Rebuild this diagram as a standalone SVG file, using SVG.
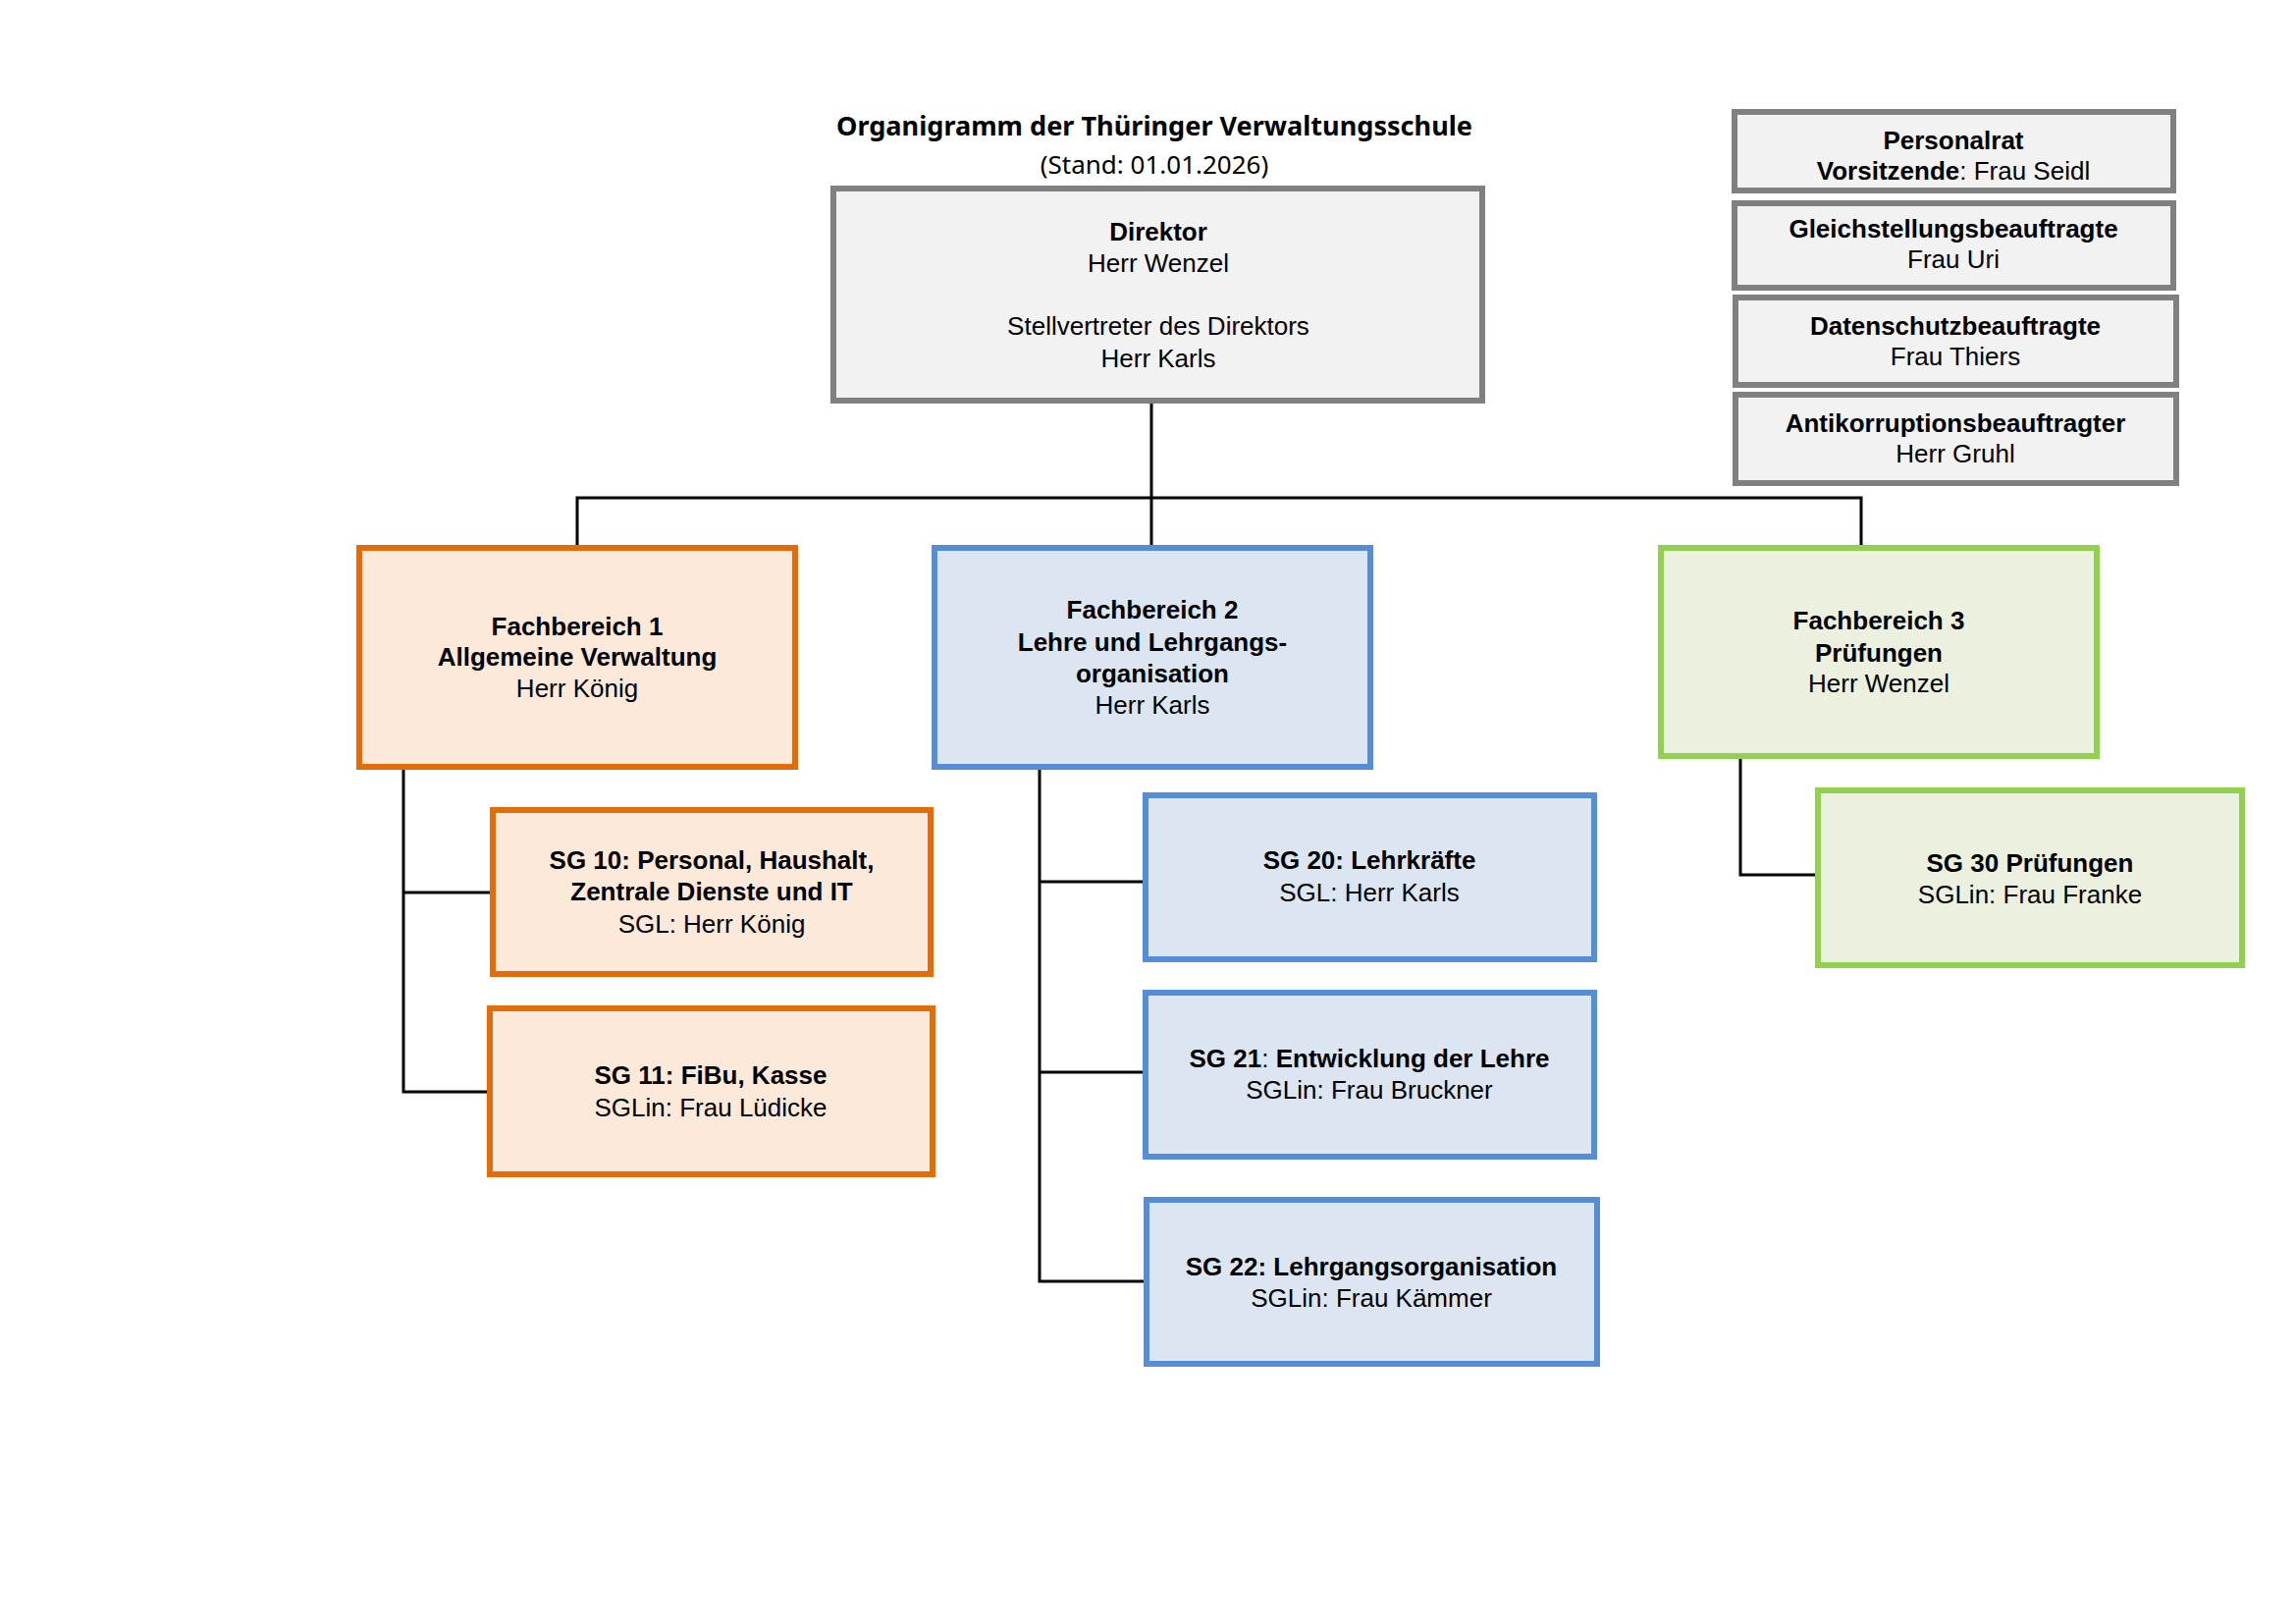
<svg xmlns="http://www.w3.org/2000/svg" width="2339" height="1654" viewBox="0 0 2339 1654">
<style>
text{font-family:"Liberation Sans",Arial,sans-serif;font-size:26px;text-anchor:middle;fill:#000}
.b{font-weight:bold}
.t{font-family:"Noto Sans","Open Sans",sans-serif;font-size:26px}
.g{fill:#F2F2F2;stroke:#808080;stroke-width:6}
.o{fill:#FDE9D9;stroke:#E36C0A;stroke-width:6}
.bl{fill:#DCE6F2;stroke:#558ED5;stroke-width:6}
.gr{fill:#EBF1DE;stroke:#92D050;stroke-width:6}
.c{fill:none;stroke:#000;stroke-width:3}
</style>
<rect width="2339" height="1654" fill="#fff"/>
<g id="title">
<text class="t b" x="1176" y="138" textLength="648" lengthAdjust="spacingAndGlyphs">Organigramm der Thüringer Verwaltungsschule</text>
<text class="t" x="1176" y="177">(Stand: 01.01.2026)</text>
</g>
<g id="connectors">
<path class="c" d="M1173 408V558M588 558V507H1896V558"/>
<path class="c" d="M411 781V1112H499M411 909H502"/>
<path class="c" d="M1059 781V1305H1168M1059 898H1167M1059 1092H1167"/>
<path class="c" d="M1773 770V891H1852"/>
</g>
<g id="direktor"><rect class="g" x="849" y="192" width="661" height="216"/>
<text class="b" x="1180" y="245">Direktor</text><text x="1180" y="277">Herr Wenzel</text>
<text x="1180" y="341">Stellvertreter des Direktors</text><text x="1180" y="374">Herr Karls</text></g>
<g id="personalrat"><rect class="g" x="1767" y="114" width="447" height="80"/>
<text class="b" x="1990" y="152">Personalrat</text><text x="1990" y="183"><tspan class="b">Vorsitzende</tspan>: Frau Seidl</text></g>
<g id="gleich"><rect class="g" x="1767" y="207" width="447" height="86"/>
<text class="b" x="1990" y="242">Gleichstellungsbeauftragte</text><text x="1990" y="273">Frau Uri</text></g>
<g id="datenschutz"><rect class="g" x="1768" y="303" width="449" height="89"/>
<text class="b" x="1992" y="341">Datenschutzbeauftragte</text><text x="1992" y="372">Frau Thiers</text></g>
<g id="anti"><rect class="g" x="1768" y="402" width="449" height="90"/>
<text class="b" x="1992" y="440">Antikorruptionsbeauftragter</text><text x="1992" y="471">Herr Gruhl</text></g>
<g id="fb1"><rect class="o" x="366" y="558" width="444" height="223"/>
<text class="b" x="588" y="647">Fachbereich 1</text><text class="b" x="588" y="678">Allgemeine Verwaltung</text><text x="588" y="710">Herr König</text></g>
<g id="fb2"><rect class="bl" x="952" y="558" width="444" height="223"/>
<text class="b" x="1174" y="630">Fachbereich 2</text><text class="b" x="1174" y="663">Lehre und Lehrgangs-</text><text class="b" x="1174" y="695">organisation</text><text x="1174" y="727">Herr Karls</text></g>
<g id="fb3"><rect class="gr" x="1692" y="558" width="444" height="212"/>
<text class="b" x="1914" y="641">Fachbereich 3</text><text class="b" x="1914" y="674">Prüfungen</text><text x="1914" y="705">Herr Wenzel</text></g>
<g id="sg10"><rect class="o" x="502" y="825" width="446" height="167"/>
<text class="b" x="725" y="885">SG 10: Personal, Haushalt,</text><text class="b" x="725" y="917">Zentrale Dienste und IT</text><text x="725" y="950">SGL: Herr König</text></g>
<g id="sg11"><rect class="o" x="499" y="1027" width="451" height="169"/>
<text class="b" x="724" y="1104">SG 11: FiBu, Kasse</text><text x="724" y="1137">SGLin: Frau Lüdicke</text></g>
<g id="sg20"><rect class="bl" x="1167" y="810" width="457" height="167"/>
<text class="b" x="1395" y="885">SG 20: Lehrkräfte</text><text x="1395" y="918">SGL: Herr Karls</text></g>
<g id="sg21"><rect class="bl" x="1167" y="1011" width="457" height="167"/>
<text x="1395" y="1087"><tspan class="b">SG 21</tspan>: <tspan class="b">Entwicklung der Lehre</tspan></text><text x="1395" y="1119">SGLin: Frau Bruckner</text></g>
<g id="sg22"><rect class="bl" x="1168" y="1222" width="459" height="167"/>
<text class="b" x="1397" y="1299">SG 22: Lehrgangsorganisation</text><text x="1397" y="1331">SGLin: Frau Kämmer</text></g>
<g id="sg30"><rect class="gr" x="1852" y="805" width="432" height="178"/>
<text class="b" x="2068" y="888">SG 30 Prüfungen</text><text x="2068" y="920">SGLin: Frau Franke</text></g>
</svg>
